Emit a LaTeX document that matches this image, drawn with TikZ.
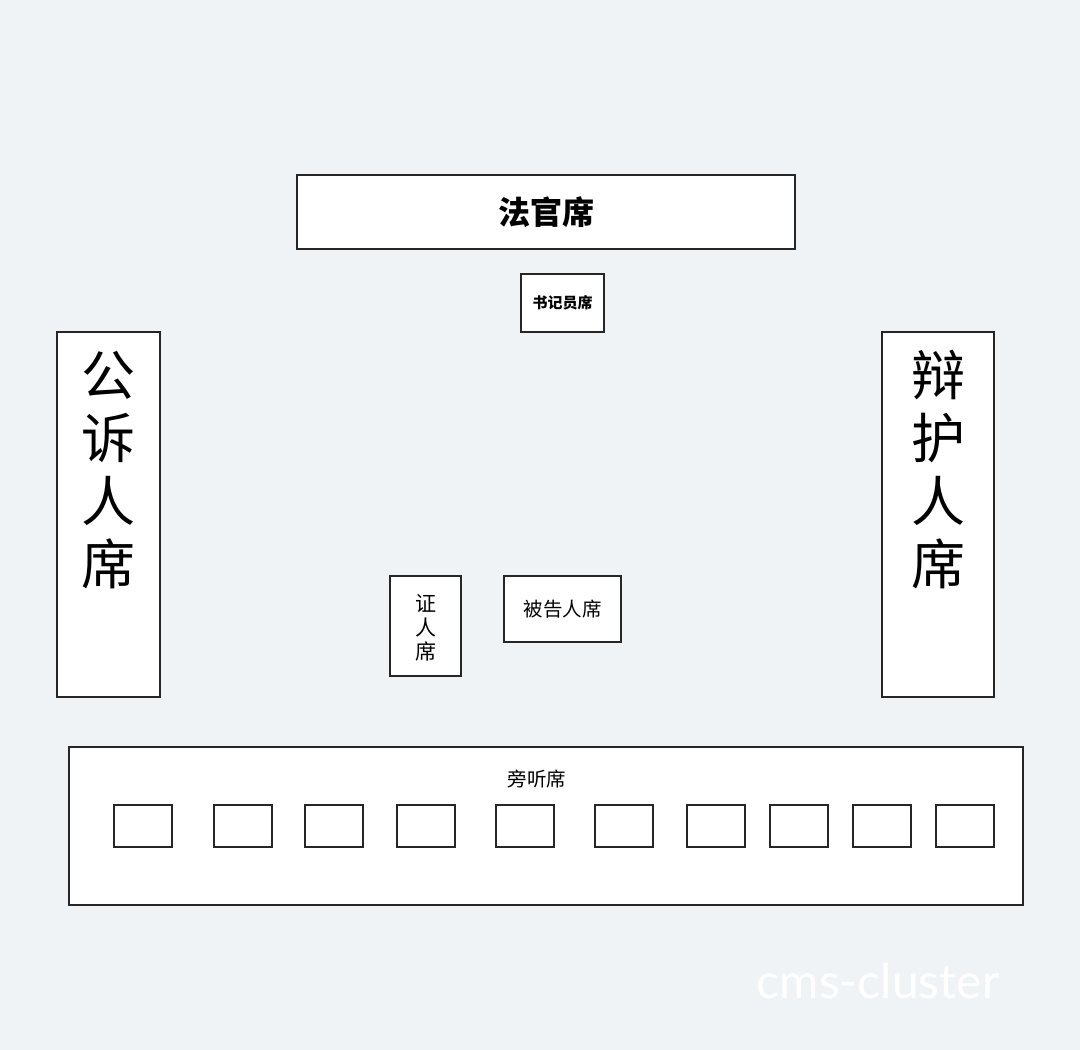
\documentclass[tikz,border=0pt]{standalone}
\usepackage{fontspec}
\newfontfamily\cjk{Noto Sans CJK SC}
\newfontfamily\markfont{Lato}
\definecolor{courtbg}{RGB}{239,243,246}
\tikzset{
  desk/.style={draw=black!85,fill=white,line width=1.3pt,inner sep=0pt},
  seat/.style={desk,minimum width=58pt,minimum height=42pt},
  label/.style={font=\cjk,inner sep=0pt,align=center}
}
\begin{document}
\begin{tikzpicture}[x=1pt,y=-1pt]
  \fill[courtbg] (0,0) rectangle (1080,1050);
  \useasboundingbox (0,0) rectangle (1080,1050);

  \node[desk,minimum width=498pt,minimum height=74pt]  (judge) at (546,212)
    {\cjk\fontsize{32}{36}\selectfont\bfseries 法官席};
  \node[desk,minimum width=83pt,minimum height=58pt]   (clerk) at (562.5,303)
    {\cjk\fontsize{15}{18}\selectfont\bfseries 书记员席};

  \node[desk,minimum width=103pt,minimum height=365pt] (prosecutor) at (108.5,514.5) {};
  \node[label,font=\cjk\fontsize{54}{63}\selectfont]   (prosecutortext) at (108,470)
    {公\\诉\\人\\席};
  \node[desk,minimum width=112pt,minimum height=365pt] (defense) at (938,514.5) {};
  \node[label,font=\cjk\fontsize{54}{63}\selectfont]   (defensetext) at (938,470)
    {辩\\护\\人\\席};

  \node[desk,minimum width=71pt,minimum height=100pt]  (witness) at (425.5,626) {};
  \node[label,font=\cjk\fontsize{21}{24}\selectfont]   (witnesstext) at (425.5,628)
    {证\\人\\席};
  \node[desk,minimum width=117pt,minimum height=66pt]  (defendant) at (562.5,609)
    {\cjk\fontsize{19.5}{22}\selectfont 被告人席};

  \node[desk,minimum width=954pt,minimum height=158pt] (gallery) at (546,826) {};
  \node[label,font=\cjk\fontsize{19.5}{22}\selectfont] (gallerytext) at (537,779) {旁听席};
  \foreach \x [count=\i] in {114,214,305,397,496,595,687,770,853,936}
    \node[seat] (seat\i) at (\x+29,826) {};

  \node[text=white,font=\markfont\fontsize{48}{52}\selectfont,inner sep=0pt]
    (watermark) at (878,981) {cms-cluster};
\end{tikzpicture}
\end{document}
